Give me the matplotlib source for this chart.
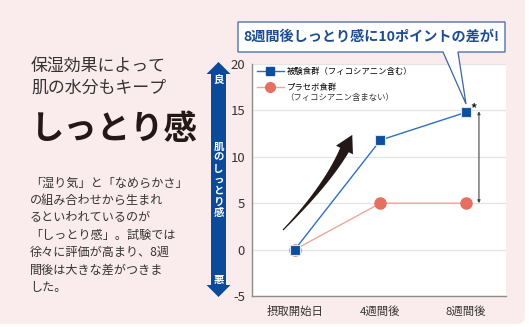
import numpy as np
import matplotlib
matplotlib.use("Agg")
import matplotlib.pyplot as plt
from matplotlib.patches import FancyBboxPatch, Polygon
from matplotlib.lines import Line2D

plt.rcParams['font.family'] = ['Noto Sans CJK JP', 'DejaVu Sans']
plt.rcParams['axes.unicode_minus'] = False

# data
periods = ["摂取開始日", "4週間後", "8週間後"]
test_group = [0, 11.8, 14.8]
placebo_group = [0, 5, 5]
test_label = "被験食群（フィコシアニン含む）"
placebo_label = "プラセボ食群"
placebo_label2 = "（フィコシアニン含まない）"
y_ticks = [-5, 0, 5, 10, 15, 20]

W, H = 529, 327
BG = "#faebec"
DARK = "#231815"
NAVY = "#0b4a98"

fig = plt.figure(figsize=(W / 100, H / 100), dpi=100, facecolor="white")

# background panel, pixel coordinates
bg = fig.add_axes([0, 0, 1, 1], zorder=0)
bg.set_xlim(0, W)
bg.set_ylim(H, 0)
bg.axis("off")
bg.add_patch(FancyBboxPatch((-20, -20), 545, 344, boxstyle="round,pad=0,rounding_size=8",
                            fc=BG, ec="none"))

# left column text
bg.text(31, 66, "保湿効果によって", fontsize=12.2, color="#333333", va="center")
bg.text(31, 88, "肌の水分もキープ", fontsize=12.2, color="#333333", va="center")
bg.text(30, 129, "しっとり感", fontsize=24, fontweight="bold", color=DARK, va="center")
body = ["「湿り気」と「なめらかさ」",
        "の組み合わせから生まれ",
        "るといわれているのが",
        "「しっとり感」。試験では",
        "徐々に評価が高まり、8週",
        "間後は大きな差がつきま",
        "した。"]
for i, line in enumerate(body):
    bg.text(30, 183 + i * 17.4, line, fontsize=8.7, color="#333333", va="center")

# chart
ax = fig.add_axes([252 / W, 1 - 296 / H, 253.5 / W, 232 / H], zorder=1)
ax.set_facecolor("white")
x = np.arange(len(periods))
ax.plot(x, placebo_group, color="#f2a49b", lw=1, marker="o", ms=8,
        mfc="#e6705f", mec="#e6705f", zorder=3)
ax.plot(x, test_group, color="#2f6fc0", lw=1, marker="s", ms=7.5,
        mfc="#0d4f9e", mec="#dde8f5", mew=0.8, zorder=4)
ax.set_xlim(-0.5, 2.46)
ax.set_ylim(-5, 20)
ax.set_yticks(y_ticks)
ax.set_xticks(x)
ax.set_xticklabels(periods, fontsize=8.2, color="#333333")
ax.tick_params(axis="y", length=0, pad=5, labelsize=9.5, labelcolor="#333333")
ax.tick_params(axis="x", length=0, pad=7)
ax.grid(axis="y", color="#e4e4e4", lw=0.9)
ax.set_axisbelow(True)
for s in ["top", "right"]:
    ax.spines[s].set_visible(False)
for s in ["left", "bottom"]:
    ax.spines[s].set_color("#8c8c8c")
    ax.spines[s].set_linewidth(1)

handles = [Line2D([], [], color="#2f6fc0", lw=1, marker="s", ms=6, mfc="#0d4f9e", mec="#0d4f9e"),
           Line2D([], [], color="#f2a49b", lw=1, marker="o", ms=7, mfc="#e6705f", mec="#e6705f")]
ax.legend(handles, [test_label, placebo_label], loc="upper left",
          bbox_to_anchor=(257 / W, 1 - 66.5 / H), bbox_transform=fig.transFigure,
          frameon=False, fontsize=6, handlelength=3.2, handletextpad=0.4,
          borderpad=0, borderaxespad=0, labelspacing=0.95)

# difference arrow between groups at 8 weeks
ax.annotate("", xy=(2.15, placebo_group[-1]), xytext=(2.15, test_group[-1] + 0.1),
            arrowprops=dict(arrowstyle="<|-|>", color="#444444", lw=0.8,
                            mutation_scale=4, shrinkA=0, shrinkB=0),
            annotation_clip=False)
ax.text(2.09, test_group[-1] + 0.35, "*", fontsize=9, fontweight="bold",
        color=DARK, ha="center", va="center")

# overlay for decorations
ov = fig.add_axes([0, 0, 1, 1], zorder=2)
ov.set_xlim(0, W)
ov.set_ylim(H, 0)
ov.axis("off")
ov.patch.set_visible(False)

ov.text(285, 97.5, placebo_label2, fontsize=6, color="#333333", va="center")

# vertical double arrow (left of chart)
cx = 218.5
arrow_pts = [(cx, 62), (206.5, 74), (211, 74), (211, 285), (206.5, 285), (cx, 297),
             (230.5, 285), (226, 285), (226, 74), (230.5, 74)]
ov.add_patch(Polygon(arrow_pts, closed=True, fc=NAVY, ec="none"))
ov.text(cx, 79.5, "良", fontsize=7.5, fontweight="bold", color="white", ha="center", va="center")
ov.text(cx, 280, "悪", fontsize=7.5, fontweight="bold", color="white", ha="center", va="center")
ov.text(cx, 180, "\n".join("肌のしっとり感"), fontsize=7.5, fontweight="bold",
        color="white", ha="center", va="center", linespacing=1.12)

# callout box
bubble = [(238, 22), (505, 22), (505, 52), (458, 52), (466, 104), (443, 52), (238, 52)]
ov.add_patch(Polygon(bubble, closed=True, fc="white", ec="#3d64a6", lw=0.9))
ov.text(371.5, 37, "8週間後しっとり感に10ポイントの差が!", fontsize=10.2,
        fontweight="bold", color="#1d4d91", ha="center", va="center")

# curved black arrow
p0 = np.array([283.0, 230.0])
c = np.array([326.0, 186.0])
p2 = np.array([344.5, 150.0])
t = np.linspace(0, 1, 40)[:, None]
pts = (1 - t) ** 2 * p0 + 2 * (1 - t) * t * c + t ** 2 * p2
d = 2 * (1 - t) * (c - p0) + 2 * t * (p2 - c)
d = d / np.linalg.norm(d, axis=1, keepdims=True)
n = np.column_stack([-d[:, 1], d[:, 0]])
w = (0.6 + 4.2 * t[:, 0] ** 1.3)[:, None]
left = pts + n * w
right = pts - n * w
dirn = d[-1]
nn = n[-1]
tip = p2 + dirn * 17
head = [p2 + nn * 9.5, tip, p2 - nn * 9.5]
shape = np.vstack([left, head, right[::-1]])
ov.add_patch(Polygon(shape, closed=True, fc=DARK, ec="none"))

fig.savefig("out.png", dpi=100, facecolor=fig.get_facecolor())
